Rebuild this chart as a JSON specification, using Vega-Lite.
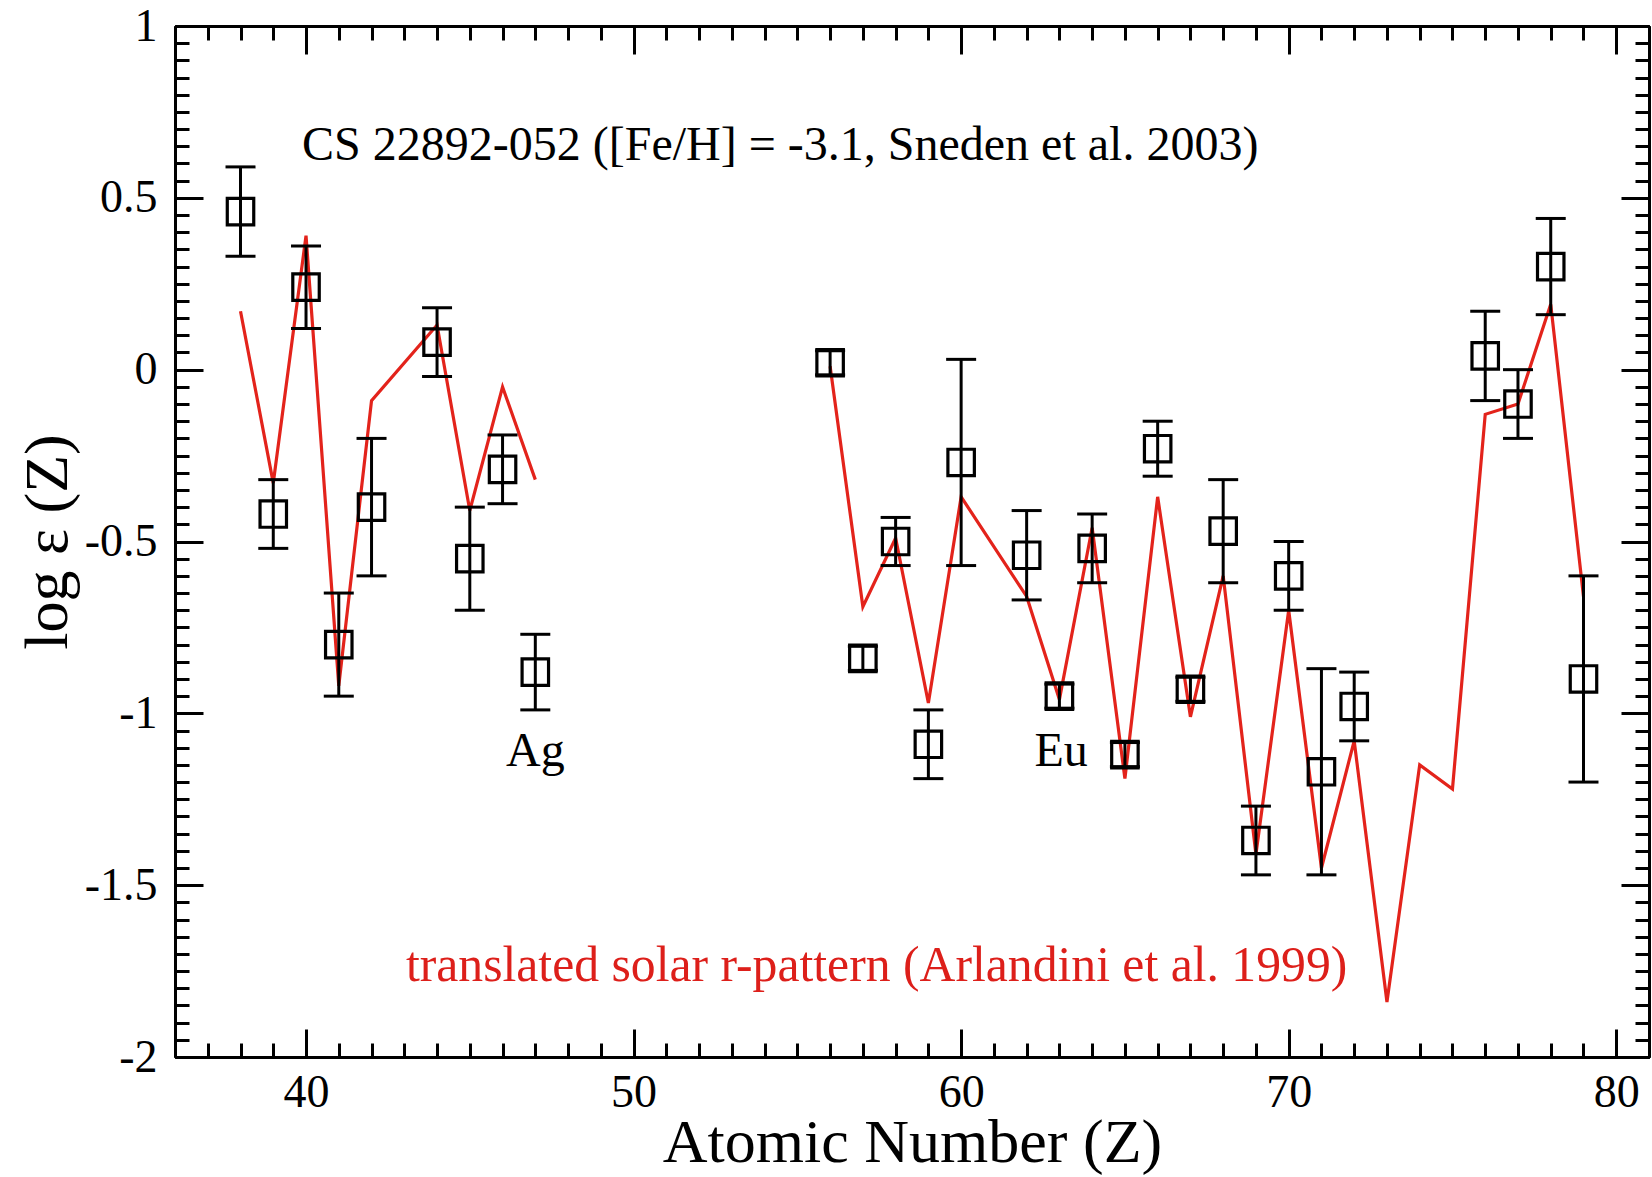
{
  "$schema": "https://vega.github.io/schema/vega-lite/v6.json",
  "width": 1474,
  "height": 1031,
  "autosize": {"type": "none"},
  "padding": {"left": 175, "top": 26, "right": 3, "bottom": 120},
  "background": "white",
  "config": {
    "view": {"stroke": null},
    "axis": {
      "domainColor": "black", "domainWidth": 3, "tickColor": "black", "tickWidth": 3, "grid": false,
      "labelFont": "Liberation Serif", "labelFontSize": 46, "labelColor": "black",
      "labelFlush": false, "labelOverlap": false, "labelBound": false,
      "titleFont": "Liberation Serif", "titleFontSize": 62, "titleFontWeight": "normal", "titleColor": "black"
    }
  },
  "datasets": {
    "obs": [
      {"Z": 38, "logeps": 0.46, "lo": 0.33, "hi": 0.59},
      {"Z": 39, "logeps": -0.42, "lo": -0.52, "hi": -0.32},
      {"Z": 40, "logeps": 0.24, "lo": 0.12, "hi": 0.36},
      {"Z": 41, "logeps": -0.80, "lo": -0.95, "hi": -0.65},
      {"Z": 42, "logeps": -0.40, "lo": -0.60, "hi": -0.20},
      {"Z": 44, "logeps": 0.08, "lo": -0.02, "hi": 0.18},
      {"Z": 45, "logeps": -0.55, "lo": -0.70, "hi": -0.40},
      {"Z": 46, "logeps": -0.29, "lo": -0.39, "hi": -0.19},
      {"Z": 47, "logeps": -0.88, "lo": -0.99, "hi": -0.77},
      {"Z": 56, "logeps": 0.02, "lo": -0.015, "hi": 0.055},
      {"Z": 57, "logeps": -0.84, "lo": -0.875, "hi": -0.805},
      {"Z": 58, "logeps": -0.50, "lo": -0.57, "hi": -0.43},
      {"Z": 59, "logeps": -1.09, "lo": -1.19, "hi": -0.99},
      {"Z": 60, "logeps": -0.27, "lo": -0.57, "hi": 0.03},
      {"Z": 62, "logeps": -0.54, "lo": -0.67, "hi": -0.41},
      {"Z": 63, "logeps": -0.95, "lo": -0.985, "hi": -0.915},
      {"Z": 64, "logeps": -0.52, "lo": -0.62, "hi": -0.42},
      {"Z": 65, "logeps": -1.12, "lo": -1.155, "hi": -1.085},
      {"Z": 66, "logeps": -0.23, "lo": -0.31, "hi": -0.15},
      {"Z": 67, "logeps": -0.93, "lo": -0.965, "hi": -0.895},
      {"Z": 68, "logeps": -0.47, "lo": -0.62, "hi": -0.32},
      {"Z": 69, "logeps": -1.37, "lo": -1.47, "hi": -1.27},
      {"Z": 70, "logeps": -0.60, "lo": -0.70, "hi": -0.50},
      {"Z": 71, "logeps": -1.17, "lo": -1.47, "hi": -0.87},
      {"Z": 72, "logeps": -0.98, "lo": -1.08, "hi": -0.88},
      {"Z": 76, "logeps": 0.04, "lo": -0.09, "hi": 0.17},
      {"Z": 77, "logeps": -0.10, "lo": -0.20, "hi": 0.00},
      {"Z": 78, "logeps": 0.30, "lo": 0.16, "hi": 0.44},
      {"Z": 79, "logeps": -0.90, "lo": -1.20, "hi": -0.60}
    ],
    "solar": [
      {"Z": 38, "logeps": 0.17, "seg": "light"},
      {"Z": 39, "logeps": -0.33, "seg": "light"},
      {"Z": 40, "logeps": 0.39, "seg": "light"},
      {"Z": 41, "logeps": -0.92, "seg": "light"},
      {"Z": 42, "logeps": -0.09, "seg": "light"},
      {"Z": 44, "logeps": 0.13, "seg": "light"},
      {"Z": 45, "logeps": -0.41, "seg": "light"},
      {"Z": 46, "logeps": -0.05, "seg": "light"},
      {"Z": 47, "logeps": -0.32, "seg": "light"},
      {"Z": 56, "logeps": 0.01, "seg": "heavy"},
      {"Z": 57, "logeps": -0.69, "seg": "heavy"},
      {"Z": 58, "logeps": -0.49, "seg": "heavy"},
      {"Z": 59, "logeps": -0.97, "seg": "heavy"},
      {"Z": 60, "logeps": -0.37, "seg": "heavy"},
      {"Z": 62, "logeps": -0.66, "seg": "heavy"},
      {"Z": 63, "logeps": -0.96, "seg": "heavy"},
      {"Z": 64, "logeps": -0.46, "seg": "heavy"},
      {"Z": 65, "logeps": -1.19, "seg": "heavy"},
      {"Z": 66, "logeps": -0.37, "seg": "heavy"},
      {"Z": 67, "logeps": -1.01, "seg": "heavy"},
      {"Z": 68, "logeps": -0.60, "seg": "heavy"},
      {"Z": 69, "logeps": -1.41, "seg": "heavy"},
      {"Z": 70, "logeps": -0.70, "seg": "heavy"},
      {"Z": 71, "logeps": -1.45, "seg": "heavy"},
      {"Z": 72, "logeps": -1.08, "seg": "heavy"},
      {"Z": 73, "logeps": -1.84, "seg": "heavy"},
      {"Z": 74, "logeps": -1.15, "seg": "heavy"},
      {"Z": 75, "logeps": -1.22, "seg": "heavy"},
      {"Z": 76, "logeps": -0.13, "seg": "heavy"},
      {"Z": 77, "logeps": -0.10, "seg": "heavy"},
      {"Z": 78, "logeps": 0.19, "seg": "heavy"},
      {"Z": 79, "logeps": -0.66, "seg": "heavy"}
    ],
    "elements": [
      {"Z": 47, "logeps": -1.153, "label": "Ag"},
      {"Z": 63.05, "logeps": -1.153, "label": "Eu"}
    ],
    "star": [
      {"Z": 39.88, "logeps": 0.61, "label": "CS 22892-052 ([Fe/H] = -3.1, Sneden et al. 2003)"}
    ],
    "pattern": [
      {"Z": 43.05, "logeps": -1.779, "label": "translated solar r-pattern (Arlandini et al. 1999)"}
    ]
  },
  "layer": [
    {
      "data": {"name": "solar"},
      "mark": {"type": "line", "color": "#e3231b", "strokeWidth": 3.2, "strokeJoin": "miter"},
      "encoding": {
        "x": {"field": "Z", "type": "quantitative", "scale": {"domain": [36, 81], "nice": false, "zero": false},
          "axis": {"orient": "bottom", "values": [40, 50, 60, 70, 80], "tickSize": -28, "labelPadding": 41,
            "title": "Atomic Number (Z)", "titleY": 104, "titleBaseline": "alphabetic"}},
        "y": {"field": "logeps", "type": "quantitative", "scale": {"domain": [-2, 1], "nice": false, "zero": false},
          "axis": {"orient": "left", "values": [-2, -1.5, -1, -0.5, 0, 0.5, 1], "tickSize": -28, "labelPadding": 46,
            "labelExpr": "replace(format(datum.value, '~g'), '−', '-')",
            "title": "log ε (Z)", "titleX": -128, "titleBaseline": "middle"}},
        "detail": {"field": "seg"}
      }
    },
    {
      "data": {"name": "obs"},
      "mark": {"type": "rule", "color": "black", "strokeWidth": 3},
      "encoding": {
        "x": {"field": "Z", "type": "quantitative", "scale": {"domain": [36, 81], "nice": false, "zero": false},
          "axis": {"orient": "bottom", "values": [36,37,38,39,40,41,42,43,44,45,46,47,48,49,50,51,52,53,54,55,56,57,58,59,60,61,62,63,64,65,66,67,68,69,70,71,72,73,74,75,76,77,78,79,80,81], "tickSize": -14, "labels": false, "title": null}},
        "y": {"field": "lo", "type": "quantitative", "scale": {"domain": [-2, 1], "nice": false, "zero": false},
          "axis": {"orient": "left", "values": [-2,-1.95,-1.9,-1.85,-1.8,-1.75,-1.7,-1.65,-1.6,-1.55,-1.5,-1.45,-1.4,-1.35,-1.3,-1.25,-1.2,-1.15,-1.1,-1.05,-1,-0.95,-0.9,-0.85,-0.8,-0.75,-0.7,-0.65,-0.6,-0.55,-0.5,-0.45,-0.4,-0.35,-0.3,-0.25,-0.2,-0.15,-0.1,-0.05,0,0.05,0.1,0.15,0.2,0.25,0.3,0.35,0.4,0.45,0.5,0.55,0.6,0.65,0.7,0.75,0.8,0.85,0.9,0.95,1], "tickSize": -14, "labels": false, "title": null}},
        "y2": {"field": "hi"}
      }
    },
    {
      "data": {"name": "obs"},
      "mark": {"type": "tick", "orient": "horizontal", "color": "black", "size": 30, "thickness": 3, "opacity": 1},
      "encoding": {
        "x": {"field": "Z", "type": "quantitative", "scale": {"domain": [36, 81], "nice": false, "zero": false},
          "axis": {"orient": "top", "values": [40, 50, 60, 70, 80], "tickSize": -28, "labels": false, "title": null}},
        "y": {"field": "lo", "type": "quantitative", "scale": {"domain": [-2, 1], "nice": false, "zero": false},
          "axis": {"orient": "right", "values": [-2, -1.5, -1, -0.5, 0, 0.5, 1], "tickSize": -28, "labels": false, "title": null}}
      }
    },
    {
      "data": {"name": "obs"},
      "mark": {"type": "tick", "orient": "horizontal", "color": "black", "size": 30, "thickness": 3, "opacity": 1},
      "encoding": {
        "x": {"field": "Z", "type": "quantitative", "scale": {"domain": [36, 81], "nice": false, "zero": false},
          "axis": {"orient": "top", "values": [36,37,38,39,40,41,42,43,44,45,46,47,48,49,50,51,52,53,54,55,56,57,58,59,60,61,62,63,64,65,66,67,68,69,70,71,72,73,74,75,76,77,78,79,80,81], "tickSize": -14, "labels": false, "title": null}},
        "y": {"field": "hi", "type": "quantitative", "scale": {"domain": [-2, 1], "nice": false, "zero": false},
          "axis": {"orient": "right", "values": [-2,-1.95,-1.9,-1.85,-1.8,-1.75,-1.7,-1.65,-1.6,-1.55,-1.5,-1.45,-1.4,-1.35,-1.3,-1.25,-1.2,-1.15,-1.1,-1.05,-1,-0.95,-0.9,-0.85,-0.8,-0.75,-0.7,-0.65,-0.6,-0.55,-0.5,-0.45,-0.4,-0.35,-0.3,-0.25,-0.2,-0.15,-0.1,-0.05,0,0.05,0.1,0.15,0.2,0.25,0.3,0.35,0.4,0.45,0.5,0.55,0.6,0.65,0.7,0.75,0.8,0.85,0.9,0.95,1], "tickSize": -14, "labels": false, "title": null}}
      }
    },
    {
      "data": {"name": "obs"},
      "mark": {"type": "point", "shape": "square", "filled": false, "color": "black", "size": 700, "strokeWidth": 3.2, "opacity": 1},
      "encoding": {
        "x": {"field": "Z", "type": "quantitative", "scale": {"domain": [36, 81], "nice": false, "zero": false}, "axis": null},
        "y": {"field": "logeps", "type": "quantitative", "scale": {"domain": [-2, 1], "nice": false, "zero": false}, "axis": null}
      }
    },
    {
      "data": {"name": "elements"},
      "mark": {"type": "text", "font": "Liberation Serif", "fontSize": 48, "color": "black", "align": "center", "baseline": "alphabetic"},
      "encoding": {
        "x": {"field": "Z", "type": "quantitative", "scale": {"domain": [36, 81], "nice": false, "zero": false}, "axis": null},
        "y": {"field": "logeps", "type": "quantitative", "scale": {"domain": [-2, 1], "nice": false, "zero": false}, "axis": null},
        "text": {"field": "label"}
      }
    },
    {
      "data": {"name": "star"},
      "mark": {"type": "text", "font": "Liberation Serif", "fontSize": 48, "color": "black", "align": "left", "baseline": "alphabetic"},
      "encoding": {
        "x": {"field": "Z", "type": "quantitative", "scale": {"domain": [36, 81], "nice": false, "zero": false}, "axis": null},
        "y": {"field": "logeps", "type": "quantitative", "scale": {"domain": [-2, 1], "nice": false, "zero": false}, "axis": null},
        "text": {"field": "label"}
      }
    },
    {
      "data": {"name": "pattern"},
      "mark": {"type": "text", "font": "Liberation Serif", "fontSize": 49.7, "color": "#dd1f1a", "align": "left", "baseline": "alphabetic"},
      "encoding": {
        "x": {"field": "Z", "type": "quantitative", "scale": {"domain": [36, 81], "nice": false, "zero": false}, "axis": null},
        "y": {"field": "logeps", "type": "quantitative", "scale": {"domain": [-2, 1], "nice": false, "zero": false}, "axis": null},
        "text": {"field": "label"}
      }
    }
  ],
  "resolve": {"axis": {"x": "independent", "y": "independent"}}
}
